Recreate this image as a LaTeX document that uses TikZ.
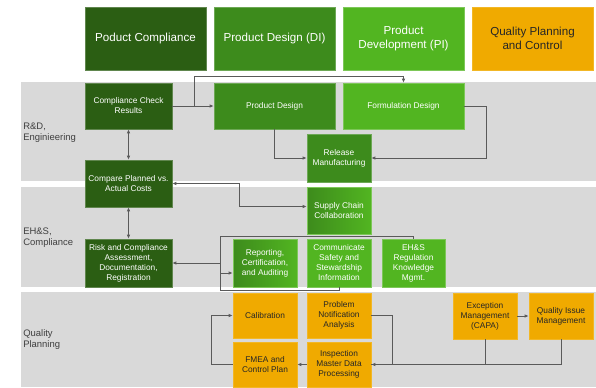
\documentclass[tikz,border=0pt]{standalone}
\usepackage{fontspec}
\setmainfont{Liberation Sans}
\usetikzlibrary{arrows.meta}
\definecolor{dkg}{HTML}{2B5E13}
\definecolor{mdg}{HTML}{3D8B1C}
\definecolor{ltg}{HTML}{52B521}
\definecolor{org}{HTML}{F0AA00}
\definecolor{bandc}{HTML}{D9D9D9}
\definecolor{lnc}{HTML}{5A5A5A}
\definecolor{lblc}{HTML}{404040}
\newdimen\pxu \pxu=0.75pt
\begin{document}
\begin{tikzpicture}[x=0.75pt,y=-0.75pt,
  box/.style={rectangle, inner sep=1pt, align=center, line width=0.4pt, font=\fontsize{6.25}{7.5}\selectfont},
  hdr/.style={rectangle, inner sep=1pt, align=center, line width=0.4pt, font=\fontsize{8.7}{10.3}\selectfont, minimum width=121\pxu, minimum height=63\pxu},
  dk/.style={fill=dkg, draw=dkg!75!white, text=white},
  md/.style={fill=mdg, draw=mdg!75!white, text=white},
  lt/.style={fill=ltg, draw=ltg!75!white, text=white},
  gr/.style={left color=mdg, right color=ltg, draw=ltg!75!white, text=white},
  og/.style={fill=org, draw=org!85!white, text=black!85},
  lbl/.style={anchor=west, align=left, text=lblc, inner sep=0pt, font=\fontsize{7.1}{8.25}\selectfont},
  ln/.style={draw=lnc, line width=0.6pt},
  arr/.style={ln, -{Latex[length=3pt,width=2.6pt]}},
  dbl/.style={ln, {Latex[length=3pt,width=2.6pt]}-{Latex[length=3pt,width=2.6pt]}}
]
\useasboundingbox (0,0) rectangle (596,387);
% bands
\fill[bandc] (21,82) rectangle (596,181);
\fill[bandc] (21,187) rectangle (596,287);
\fill[bandc] (21,292) rectangle (596,387);
\node[lbl] (l1) at (23,132.5) {R\&D,\\Enginieering};
\node[lbl] (l2) at (23,237.5) {EH\&S,\\Compliance};
\node[lbl] (l3) at (23,339.5) {Quality\\Planning};
% headers
\node[hdr,dk] (h1) at (145.5,38.5) {Poduct Compliance};
\node[hdr,md] (h2) at (274.5,38.5) {Product Design (DI)};
\node[hdr,lt] (h3) at (403.5,38.5) {Product\\Development (PI)};
\node[hdr,og] (h4) at (532.5,38.5) {Quality Planning\\and Control};
% row 1
\node[box,dk,minimum width=87\pxu,minimum height=46\pxu] (ccr) at (128.5,106) {Compliance Check\\Results};
\node[box,md,minimum width=121\pxu,minimum height=46\pxu] (pd) at (274.5,106) {Product Design};
\node[box,lt,minimum width=121\pxu,minimum height=46\pxu] (fd) at (403.5,106) {Formulation Design};
\node[box,md,minimum width=64\pxu,minimum height=48\pxu] (rm) at (339,158) {Release\\Manufacturing};
\node[box,dk,minimum width=87\pxu,minimum height=47\pxu] (cpa) at (128.5,183.5) {Compare Planned vs.\\Actual Costs};
% row 2
\node[box,gr,minimum width=64\pxu,minimum height=47\pxu] (scc) at (339,210.5) {Supply Chain\\Collaboration};
\node[box,dk,minimum width=87\pxu,minimum height=48\pxu] (rca) at (128.5,263) {Risk and Compliance\\Assessment,\\Documentation,\\Registration};
\node[box,gr,minimum width=64\pxu,minimum height=48\pxu] (rep) at (265,263) {Reporting,\\Certification,\\and Auditing};
\node[box,lt,minimum width=64\pxu,minimum height=48\pxu] (csi) at (339,263) {Communicate\\Safety and\\Stewardship\\Information};
\node[box,lt,minimum width=63\pxu,minimum height=48\pxu] (ehs) at (413.5,263) {EH\&S\\Regulation\\Knowledge\\Mgmt.};
% row 3
\node[box,og,minimum width=64\pxu,minimum height=45\pxu] (cal) at (265,315.5) {Calibration};
\node[box,og,minimum width=64\pxu,minimum height=45\pxu] (fmea) at (265,364.5) {FMEA and\\Control Plan};
\node[box,og,minimum width=64\pxu,minimum height=45\pxu] (pna) at (339,315.5) {Problem\\Notification\\Analysis};
\node[box,og,minimum width=64\pxu,minimum height=45\pxu] (imd) at (339,364.5) {Inspection\\Master Data\\Processing};
\node[box,og,minimum width=64\pxu,minimum height=46\pxu] (exc) at (485,316) {Exception\\Management\\(CAPA)};
\node[box,og,minimum width=64\pxu,minimum height=46\pxu] (qim) at (561,316) {Quality Issue\\Management};
% connectors
\coordinate (j1) at (194,106);
\draw[arr] (ccr.east) -- (pd.west);
\draw[arr] (j1) -- (194,76) -| (fd.north);
\draw[dbl] (ccr.south) -- (cpa.north);
\draw[arr] (pd.south) |- (rm.west);
\draw[arr] (fd.east) -- ++(22,0) |- (rm.east);
\coordinate (j2) at (239,183.5);
\coordinate (sw) at ([yshift=3pt]scc.west);
\draw[dbl] (cpa.east) -- (j2) |- (sw);
\draw[dbl] (cpa.south) -- (rca.north);
\coordinate (gb) at (220,290);
\draw[ln] (ehs.north) -- ++(0,-2) -| (gb) -| (csi.south);
\coordinate (g1) at (220,263);
\coordinate (g2) at (220,273);
\draw[arr] (g1) -- (rca.east);
\draw[arr] (g2) -- (g2 -| rep.west);
\draw[arr] (fmea.west) -- ++(-21,0) |- (cal.west);
\draw[arr] (imd.west) -- (fmea.east);
\draw[arr] (pna.east) -- ++(21,0) |- (imd.east);
\draw[arr] (exc.east) -- (qim.west);
\draw[ln] (exc.south) |- (imd.east);
\draw[ln] (qim.south) |- (imd.east);
\end{tikzpicture}
\end{document}
